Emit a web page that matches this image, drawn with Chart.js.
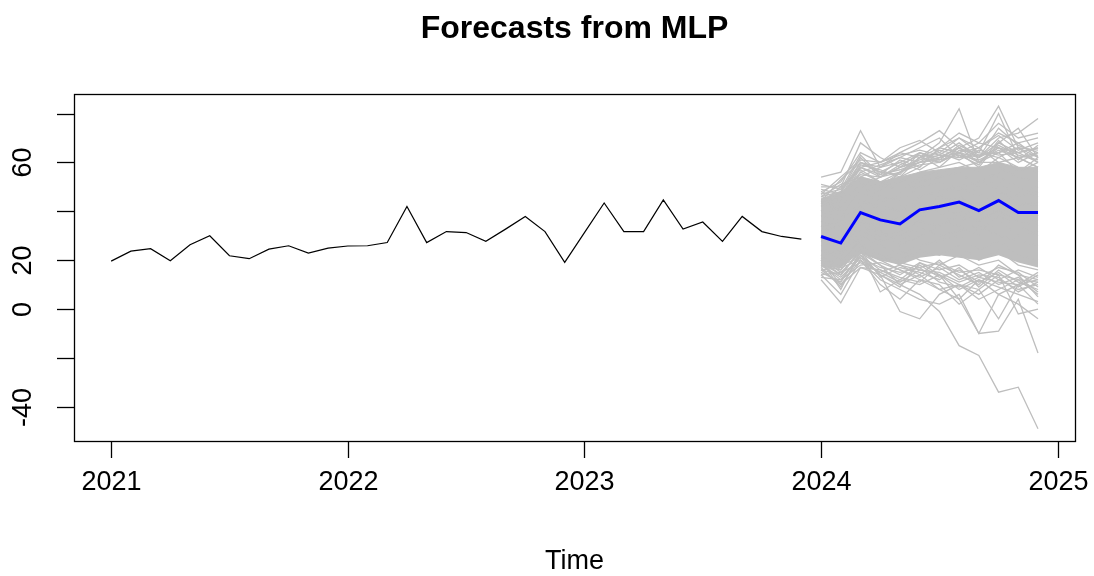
<!DOCTYPE html>
<html>
<head>
<meta charset="utf-8">
<script src="https://cdn.jsdelivr.net/npm/chart.js@4/dist/chart.umd.min.js"></script>
<style>
  html, body { margin: 0; padding: 0; background: #fff; }
  #wrap { width: 1094px; height: 576px; }
</style>
</head>
<body>
<div id="wrap"><canvas id="mlpChart" width="1094" height="576"></canvas></div>
<script>
// Observed monthly series, Jan 2021 .. Dec 2023
const histStart = 2021;
const histValues = [
  19.6, 23.7, 24.7, 19.8, 26.3, 30.0, 21.8, 20.6, 24.5, 25.9, 22.9, 24.9,
  25.8, 25.9, 27.2, 42.0, 27.2, 31.7, 31.3, 27.7, 32.7, 37.9, 31.7, 19.1,
  31.3, 43.4, 31.7, 31.7, 44.7, 32.7, 35.6, 27.7, 37.9, 31.7, 29.7, 28.6
];

// Point forecast, Jan 2024 .. Dec 2024
const fcStart = 2024;
const fcMean = [29.7, 27.0, 39.5, 36.5, 34.8, 40.6, 42.0, 43.8, 40.3, 44.4, 39.5, 39.5];

// dense core of the simulated paths (read off the solid grey area)
const bandLow  = [17, 17, 23, 20, 18, 21, 22, 21, 20, 22, 19, 17];
const bandHigh = [45, 48, 54, 52, 54, 56, 57, 58, 58, 60, 58, 58];

// individual simulated paths that stick out of / run through the core
const simPaths = [
  [54, 56, 73, 58, 62, 66, 70, 62, 66, 60, 62, 58],
  [44, 40, 52, 50, 56, 62, 68, 82, 60, 64, 56, 62],
  [40, 38, 50, 54, 58, 60, 62, 66, 70, 83, 66, 60],
  [42, 44, 56, 52, 54, 58, 66, 70, 64, 80, 62, 58],
  [46, 48, 60, 56, 60, 64, 60, 66, 62, 70, 72, 78],
  [38, 42, 52, 48, 56, 62, 60, 64, 58, 68, 74, 62],
  [44, 46, 60, 58, 64, 68, 73, 66, 62, 68, 64, 66],
  [40, 48, 58, 60, 66, 69, 64, 70, 66, 72, 68, 70],
  [48, 52, 64, 60, 64, 62, 66, 72, 68, 76, 70, 72],
  [50, 50, 68, 62, 58, 64, 62, 64, 68, 66, 64, 60],
  [47, 49, 58, 55, 57, 60, 61, 63, 61, 65, 62, 63],
  [45, 47, 55, 54, 58, 61, 63, 62, 63, 64, 66, 62],
  [43, 50, 57, 52, 56, 59, 60, 64, 62, 66, 60, 64],
  [48, 45, 59, 57, 54, 62, 64, 61, 65, 63, 64, 66],
  [46, 51, 54, 58, 60, 57, 62, 66, 60, 67, 63, 61],
  [42, 48, 62, 54, 59, 63, 58, 65, 64, 62, 66, 65],
  [49, 47, 56, 59, 62, 60, 65, 63, 59, 69, 61, 67],
  [44, 53, 60, 56, 55, 64, 61, 67, 63, 64, 68, 62],
  [51, 49, 63, 55, 61, 58, 66, 64, 66, 71, 65, 68],
  [47, 54, 61, 60, 63, 65, 63, 68, 62, 74, 67, 64],
  [12, 2.5, 17, 14, 10, 14, 8, 10, 6, 12, 8, 10],
  [20, 14, 24, 18, 10, 6, -1, -15, -19, -34, -32, -49],
  [16, 10, 20, 12, 8, 4, 2, 6, -10, -9, 4, -18],
  [18, 12, 22, 14, -1, -4, 6, 10, 4, 8, 12, 6],
  [20, 8, 24, 7, 12, 10, 14, 4, 12, 6, 10, 2],
  [14, 6, 20, 10, 4, 12, 10, 2, 8, 14, -2, 0],
  [22, 16, 26, 20, 16, 12, 8, 4, -10, 6, 2, -4],
  [24, 20, 28, 22, 18, 16, 14, 10, 8, -4, 10, 12],
  [18, 13, 21, 17, 15, 17, 19, 15, 16, 14, 12, 11],
  [15, 11, 23, 18, 14, 19, 16, 18, 13, 17, 15, 9],
  [21, 15, 19, 15, 18, 14, 20, 13, 17, 12, 16, 13],
  [17, 9, 22, 16, 12, 18, 13, 16, 11, 15, 9, 14],
  [13, 12, 18, 19, 16, 13, 17, 12, 15, 10, 13, 7],
  [19, 14, 24, 13, 17, 15, 12, 17, 9, 16, 11, 8],
  [16, 17, 20, 15, 11, 16, 15, 11, 14, 13, 7, 11],
  [20, 10, 17, 16, 13, 11, 18, 14, 10, 18, 14, 5],
  [14, 15, 23, 20, 19, 17, 11, 9, 13, 11, 10, 15],
  [22, 18, 21, 14, 9, 19, 14, 8, 12, 9, 6, 3],
  [36, 32, 44, 42, 40, 46, 48, 50, 46, 52, 46, 48],
  [24, 22, 34, 30, 28, 32, 36, 34, 30, 36, 30, 32],
  [40, 38, 48, 44, 46, 52, 54, 56, 50, 58, 54, 52],
  [20, 18, 30, 26, 22, 26, 28, 30, 24, 28, 22, 20],
  [28, 30, 42, 34, 38, 44, 40, 46, 42, 48, 44, 42],
  [34, 28, 38, 40, 32, 36, 44, 38, 36, 40, 36, 34],
  [44, 42, 52, 50, 52, 56, 58, 60, 56, 62, 58, 56],
  [18, 16, 26, 22, 20, 24, 22, 26, 20, 24, 18, 16],
  [32, 34, 46, 40, 42, 38, 46, 52, 48, 54, 50, 46],
  [26, 20, 32, 28, 30, 34, 30, 32, 34, 30, 28, 26],
  [38, 36, 50, 46, 44, 50, 52, 48, 52, 56, 48, 50],
  [22, 24, 36, 32, 26, 30, 34, 40, 36, 42, 38, 36],
  [42, 46, 54, 52, 48, 54, 56, 58, 60, 60, 56, 60],
  [30, 22, 36, 34, 36, 42, 38, 42, 38, 46, 42, 44],
  [16, 14, 24, 20, 24, 20, 18, 22, 18, 20, 14, 12],
  [46, 44, 58, 54, 56, 60, 62, 64, 60, 66, 62, 64],
  [34, 36, 42, 38, 36, 42, 46, 44, 42, 50, 44, 38],
  [28, 24, 38, 30, 32, 36, 34, 38, 32, 38, 34, 30]
];

// axes
const xTicks = [2021, 2022, 2023, 2024, 2025];
const yTicks = [-40, -20, 0, 20, 40, 60, 80];
const yTickLabels = ['-40', '', '0', '20', '', '60', ''];
const xRange = [2020.843, 2025.073];
const yRange = [-54, 88];

const chartTitle = 'Forecasts from MLP';
const xTitle = 'Time';

const GREY = '#bebebe';
const FONT = '"Liberation Sans", Arial, sans-serif';

function monthly(start, values) {
  return values.map((v, i) => ({ x: start + i / 12, y: v }));
}

const datasets = [];
datasets.push({
  data: monthly(histStart, histValues),
  borderColor: '#000', borderWidth: 1.2, order: 1
});
datasets.push({
  data: monthly(fcStart, fcMean),
  borderColor: '#0000ff', borderWidth: 3, order: 0
});
simPaths.forEach(p => datasets.push({
  data: monthly(fcStart, p),
  borderColor: GREY, borderWidth: 1.3, order: 3
}));
datasets.push({
  data: monthly(fcStart, bandLow),
  borderColor: 'rgba(0,0,0,0)', borderWidth: 0, order: 4
});
datasets.push({
  data: monthly(fcStart, bandHigh),
  borderColor: GREY, borderWidth: 1, order: 4,
  fill: '-1', backgroundColor: GREY
});

// R base-graphics style frame, ticks and labels
const rFrame = {
  id: 'rFrame',
  afterDraw(chart) {
    const { ctx, chartArea: a, scales } = chart;
    const x = scales.x, y = scales.y;
    ctx.save();
    ctx.strokeStyle = '#000';
    ctx.lineWidth = 1.3;
    ctx.strokeRect(Math.round(a.left) + 0.5, Math.round(a.top) + 0.5,
      Math.round(a.right - a.left), Math.round(a.bottom - a.top));

    ctx.fillStyle = '#000';
    ctx.font = '27px ' + FONT;
    ctx.textAlign = 'center';
    ctx.textBaseline = 'middle';
    xTicks.forEach(v => {
      const px = Math.round(x.getPixelForValue(v)) + 0.5;
      ctx.beginPath();
      ctx.moveTo(px, a.bottom);
      ctx.lineTo(px, a.bottom + 17);
      ctx.stroke();
      ctx.fillText(String(v), px, a.bottom + 42);
    });
    yTicks.forEach((v, i) => {
      const py = Math.round(y.getPixelForValue(v)) + 0.5;
      ctx.beginPath();
      ctx.moveTo(a.left, py);
      ctx.lineTo(a.left - 17, py);
      ctx.stroke();
      if (yTickLabels[i]) {
        ctx.save();
        ctx.translate(a.left - 50, py);
        ctx.rotate(-Math.PI / 2);
        ctx.fillText(yTickLabels[i], 0, 0);
        ctx.restore();
      }
    });

    const cx = (a.left + a.right) / 2;
    ctx.fillText(xTitle, cx, a.bottom + 121);
    ctx.font = 'bold 32px ' + FONT;
    ctx.fillText(chartTitle, cx, 29);
    ctx.restore();
  }
};

new Chart(document.getElementById('mlpChart'), {
  type: 'line',
  data: { datasets: datasets },
  options: {
    responsive: false,
    animation: false,
    devicePixelRatio: 1,
    layout: { padding: { left: 74, top: 94, right: 19, bottom: 135 } },
    elements: { point: { radius: 0 }, line: { tension: 0, fill: false } },
    scales: {
      x: { type: 'linear', min: xRange[0], max: xRange[1], display: false },
      y: { type: 'linear', min: yRange[0], max: yRange[1], display: false }
    },
    plugins: {
      legend: { display: false },
      tooltip: { enabled: false },
      title: { display: false }
    }
  },
  plugins: [rFrame]
});
</script>
</body>
</html>
